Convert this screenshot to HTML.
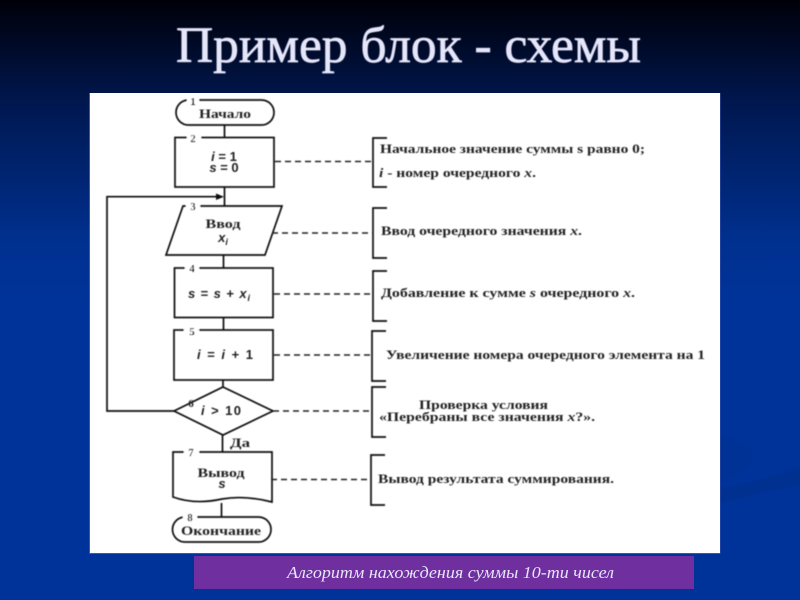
<!DOCTYPE html>
<html><head><meta charset="utf-8"><style>
html,body{margin:0;padding:0;width:800px;height:600px;overflow:hidden;background:#003399}
svg{display:block}
.s{font-family:"Liberation Serif",serif;fill:#222;font-size:12.5px;font-weight:bold}
.n{font-family:"Liberation Serif",serif;fill:#222;font-size:13px;font-weight:bold;text-anchor:middle}
.f{font-family:"Liberation Sans",sans-serif;fill:#222;font-size:13px;font-weight:bold;text-anchor:middle}
.it{font-style:italic}
</style></head><body>
<svg width="800" height="600" viewBox="0 0 800 600" xmlns="http://www.w3.org/2000/svg">
<defs>
<linearGradient id="bg" x1="0" y1="0" x2="0" y2="1">
<stop offset="0" stop-color="#000008"/><stop offset=".17" stop-color="#00174f"/><stop offset=".4" stop-color="#00308f"/><stop offset=".5" stop-color="#003399"/><stop offset="1" stop-color="#003399"/>
</linearGradient>
<filter id="b" x="-5%" y="-5%" width="110%" height="110%"><feGaussianBlur stdDeviation="0.45"/></filter>
</defs>
<rect width="800" height="600" fill="url(#bg)"/>
<path d="M720 433 Q752 445 752 458 Q752 472 720 481 Z" fill="#003194"/>
<path d="M720 488 Q760 482 800 467 L800 485 Q760 492 720 504 Z" fill="#003090"/>
<text x="176" y="62" font-family="'Liberation Serif',serif" font-size="51" fill="#e6e6fa" stroke="#e6e6fa" stroke-width="0.7" textLength="465" lengthAdjust="spacingAndGlyphs" filter="url(#b)">Пример блок - схемы</text>
<rect x="89" y="93" width="631.500" height="461" fill="#3f55b0"/>
<rect x="90" y="93" width="630" height="460" fill="#fff"/>
<rect x="194" y="556" width="500" height="33" fill="#6f2f9f"/>
<text x="287" y="578" font-family="'Liberation Serif',serif" font-style="italic" font-size="17" fill="#e6e6fa" textLength="327" lengthAdjust="spacingAndGlyphs">Алгоритм нахождения суммы 10-ти чисел</text>

<g filter="url(#b)">
<g fill="none" stroke="#111" stroke-width="1.7">
<rect x="176" y="100" width="98" height="25" rx="12.500"/>
<path d="M224.500 125V137.500"/>
<rect x="175" y="137.500" width="99" height="49.500"/>
<path d="M224.500 187V206"/>
<path d="M183 206H282L265 255H166Z"/>
<path d="M223.500 255V268"/>
<rect x="174.500" y="268" width="98.500" height="49.500"/>
<path d="M223.500 317.500V330"/>
<rect x="174" y="330" width="99" height="50"/>
<path d="M223 380V387"/>
<path d="M223 387L273 411L223 435L174 411Z"/>
<path d="M222.500 435V452"/>
<path d="M173 452H272V502Q245 495 222 499Q195 505 173 497Z"/>
<path d="M221.500 503V517"/>
<rect x="172.500" y="517" width="98.500" height="25" rx="12.500"/>
<path d="M174 411H107V196.700H218"/>
<path d="M387 138H373V187H387"/>
<path d="M387 208H373V258H387"/>
<path d="M387 271H373V321H387"/>
<path d="M386 331H372V381H386"/>
<path d="M386 387H372V437H386"/>
<path d="M385 455H371V505H385"/>
</g>
<path d="M224 196.700L216 193.500V200Z" fill="#111"/>
<g fill="none" stroke="#222" stroke-width="1.500" stroke-dasharray="6 4">
<path d="M275 161.500H373"/><path d="M272 233H373"/><path d="M274 294H373"/><path d="M274 355H372"/><path d="M273 411H372"/><path d="M271 479.500H371"/>
</g>
<g fill="#fff">
<rect x="187" y="97" width="12" height="6"/><rect x="187" y="134" width="14" height="7"/><rect x="186" y="203" width="14" height="6"/>
<rect x="185" y="265" width="14" height="6"/><rect x="184" y="327" width="15" height="6"/><rect x="184" y="449" width="15" height="6"/><rect x="183" y="514" width="14" height="6"/>
</g>
<g font-family="'Liberation Serif',serif" font-size="11" font-weight="bold" fill="#222" text-anchor="middle">
<text x="193" y="105">1</text><text x="193" y="142">2</text><text x="193" y="210">3</text><text x="192" y="272">4</text><text x="192" y="335">5</text><text x="191" y="407">6</text><text x="191" y="456">7</text><text x="190" y="521">8</text>
</g>
<text class="n" x="225" y="118" textLength="52" lengthAdjust="spacingAndGlyphs">Начало</text>
<text class="f" x="224" y="161"><tspan class="it">i</tspan> = 1</text>
<text class="f" x="224" y="172"><tspan class="it">s</tspan> = 0</text>
<text class="n" x="223" y="228" textLength="35" lengthAdjust="spacingAndGlyphs">Ввод</text>
<text class="f" x="223" y="242"><tspan class="it">x</tspan><tspan class="it" font-size="9" dy="3">i</tspan></text>
<text class="f" x="219" y="298" textLength="62" lengthAdjust="spacing"><tspan class="it">s</tspan> = <tspan class="it">s</tspan> + <tspan class="it">x</tspan><tspan class="it" font-size="9" dy="3">i</tspan></text>
<text class="f" x="225" y="359" textLength="56" lengthAdjust="spacing"><tspan class="it">i</tspan> = <tspan class="it">i</tspan>  + 1</text>
<text class="f" x="221" y="415" textLength="40" lengthAdjust="spacing"><tspan class="it">i</tspan> &gt; 10</text>
<text class="n" x="240" y="447" textLength="20" lengthAdjust="spacingAndGlyphs">Да</text>
<text class="n" x="221" y="477" textLength="47" lengthAdjust="spacingAndGlyphs">Вывод</text>
<text class="f" x="222" y="488"><tspan class="it">s</tspan></text>
<text class="n" x="221" y="535" textLength="80" lengthAdjust="spacingAndGlyphs">Окончание</text>

<text class="s" x="380" y="153" textLength="265" lengthAdjust="spacingAndGlyphs">Начальное значение суммы s равно 0;</text>
<text class="s" x="379" y="177" textLength="157" lengthAdjust="spacingAndGlyphs"><tspan class="it">i</tspan> - номер очередного <tspan class="it">x</tspan>.</text>
<text class="s" x="381" y="235" textLength="201" lengthAdjust="spacingAndGlyphs">Ввод очередного значения <tspan class="it">x</tspan>.</text>
<text class="s" x="381" y="297" textLength="254" lengthAdjust="spacingAndGlyphs">Добавление к сумме <tspan class="it">s</tspan> очередного <tspan class="it">x</tspan>.</text>
<text class="s" x="386" y="359" textLength="319" lengthAdjust="spacingAndGlyphs">Увеличение номера очередного элемента на 1</text>
<text class="s" x="419" y="409" textLength="129" lengthAdjust="spacingAndGlyphs">Проверка условия</text>
<text class="s" x="379" y="421" textLength="216" lengthAdjust="spacingAndGlyphs">«Перебраны все значения <tspan class="it">x</tspan>?».</text>
<text class="s" x="378" y="483" textLength="236" lengthAdjust="spacingAndGlyphs">Вывод результата суммирования.</text>
</g>
</svg>
</body></html>
